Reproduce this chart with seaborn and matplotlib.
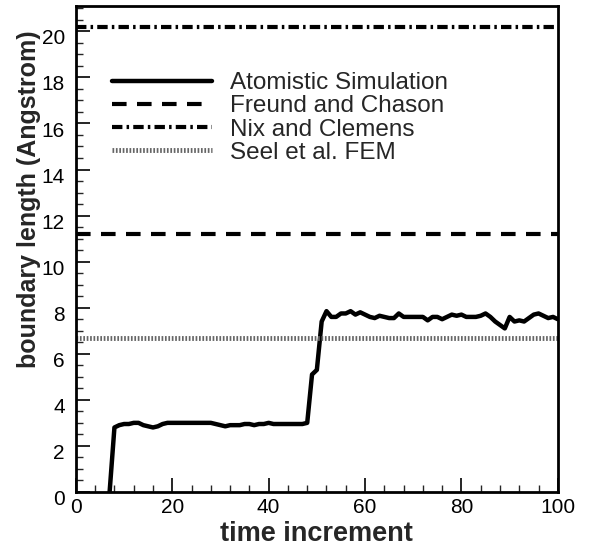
import numpy as np
import pandas as pd
import matplotlib
matplotlib.use("Agg")
import matplotlib.pyplot as plt
import matplotlib.transforms as mtransforms
import seaborn as sns

sns.set_style("ticks")
plt.rcParams['font.family'] = ['Liberation Sans', 'DejaVu Sans']

# atomistic simulation, one value per time increment (7..100)
time_inc = list(range(7, 101))
boundary = [0, 2.8, 2.9,
            2.95, 2.95, 3.0, 3.0, 2.9, 2.85, 2.8, 2.85, 2.95, 3.0,
            3.0, 3.0, 3.0, 3.0, 3.0, 3.0, 3.0, 3.0, 3.0, 2.95,
            2.9, 2.85, 2.9, 2.9, 2.9, 2.95, 2.95, 2.9, 2.95, 2.95,
            3.0, 2.95, 2.95, 2.95, 2.95, 2.95, 2.95, 2.95, 3.0, 5.1,
            5.3, 7.4, 7.85, 7.6, 7.6, 7.75, 7.75, 7.85, 7.7, 7.8,
            7.7, 7.6, 7.55, 7.65, 7.6, 7.55, 7.55, 7.75, 7.6, 7.6,
            7.6, 7.6, 7.6, 7.45, 7.6, 7.6, 7.5, 7.6, 7.7, 7.65,
            7.7, 7.6, 7.6, 7.6, 7.65, 7.75, 7.6, 7.4, 7.25, 7.1,
            7.6, 7.4, 7.45, 7.4, 7.55, 7.7, 7.75, 7.65, 7.55, 7.6,
            7.5]

# analytical / FEM estimates (constant lines)
freund_chason = 11.2
nix_clemens = 20.2
seel_fem = 6.7

df = pd.DataFrame({'time increment': time_inc, 'boundary': boundary})

fig = plt.figure(figsize=(6.07, 5.46), dpi=100)
ax = fig.add_axes([0.125, 0.099, 0.794, 0.890])

sns.lineplot(data=df, x='time increment', y='boundary', ax=ax,
             color='black', lw=3.2, label='Atomistic Simulation')
ax.axhline(freund_chason, color='black', lw=3, dashes=(3.5, 2.5),
           label='Freund and Chason')
ax.axhline(nix_clemens, color='black', lw=3, dashes=(2.5, 1.0, 0.6, 1.0),
           label='Nix and Clemens')
ax.axhline(seel_fem, color='0.4', lw=3.5, dashes=(0.35, 0.35),
           label='Seel et al. FEM')

ax.set_xlim(0, 100)
ax.set_ylim(0, 21.1)
ax.set_xticks(np.arange(0, 101, 20))
ax.set_xticks(np.arange(0, 101, 4), minor=True)
ax.set_yticks(np.arange(0, 21, 2))
ax.set_yticks(np.arange(0, 21.1, 0.5), minor=True)
ax.tick_params(which='major', direction='in', length=10, width=1.2,
               labelsize=15, colors='black')
ax.tick_params(which='minor', direction='in', length=5, width=1.0)
ax.tick_params(axis='x', pad=4)
ax.tick_params(axis='y', pad=8)
# tick labels on the y axis sit a little below their ticks
shift = mtransforms.ScaledTranslation(0, -4 / 72, fig.dpi_scale_trans)
for lab in ax.get_yticklabels():
    lab.set_transform(lab.get_transform() + shift)
for s in ax.spines.values():
    s.set_linewidth(2)
    s.set_color('black')

ax.set_xlabel('time increment', fontsize=19.5, fontweight='bold')
ax.set_ylabel('boundary length (Angstrom)', fontsize=18, fontweight='bold')
ax.xaxis.label.set_va('top')
ax.xaxis.set_label_coords(0.5, -0.060)
ax.yaxis.label.set_va('center')
ax.yaxis.set_label_coords(-0.098, 0.603)

ax.legend(loc='upper left', bbox_to_anchor=(0.075, 0.864), frameon=False,
          fontsize=17.5, handlelength=4.1, handletextpad=0.75,
          labelspacing=0.05, borderpad=0, borderaxespad=0)

fig.savefig('out.png', dpi=100)
